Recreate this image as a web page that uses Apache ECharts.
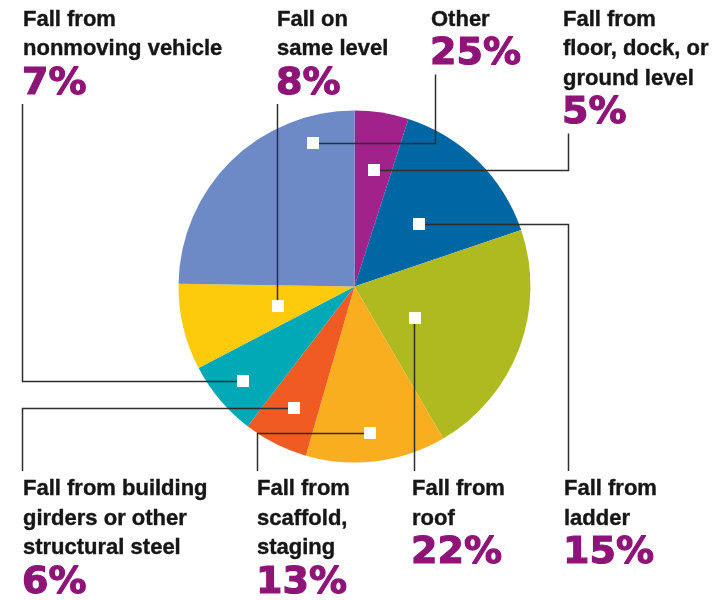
<!DOCTYPE html>
<html>
<head>
<meta charset="utf-8">
<script src="https://cdn.jsdelivr.net/npm/echarts@6/dist/echarts.min.js"></script>
<style>
  html, body { margin: 0; padding: 0; background: #fff; }
  #main { width: 724px; height: 600px; }
</style>
</head>
<body>
<div id="main"></div>
<script>
// 数据 (clockwise from 12 o'clock)
var categories = ['Fall from floor, dock, or ground level', 'Fall from ladder', 'Fall from roof',
    'Fall from scaffold, staging', 'Fall from building girders or other structural steel',
    'Fall from nonmoving vehicle', 'Fall on same level', 'Other'];
var values = [5, 15, 22, 13, 6, 7, 8, 25];
var labelLines = [
    ['Fall from', 'floor, dock, or', 'ground level'],
    ['Fall from', 'ladder'],
    ['Fall from', 'roof'],
    ['Fall from', 'scaffold,', 'staging'],
    ['Fall from building', 'girders or other', 'structural steel'],
    ['Fall from', 'nonmoving vehicle'],
    ['Fall on', 'same level'],
    ['Other']
];

var colors = ['#A0228A', '#0067A4', '#AFBA20', '#F8AE1F', '#F05A23', '#00A9B5', '#FECA0C', '#6D8AC6'];

// label placement: text x, top/bottom row, leader x; marker = fraction of slice angle, fraction of radius
var place = [
    {x: 563, top: true, lineX: 568.5, af: 0.53, rf: 0.67},
    {x: 564, top: false, lineX: 568.5, af: 0.53, rf: 0.51},
    {x: 412, top: false, lineX: 414.5, af: 0.59, rf: 0.39},
    {x: 257, top: false, lineX: 257.5, af: 0.52, rf: 0.84},
    {x: 23, top: false, lineX: 22.5, af: 0.48, rf: 0.77},
    {x: 23, top: true, lineX: 22.5, af: 0.50, rf: 0.83},
    {x: 277, top: true, lineX: 277.5, af: 0.48, rf: 0.45},
    {x: 431, top: true, lineX: 435.5, af: 0.82, rf: 0.85}
];

var textFont = 'bold 22px "Liberation Sans", Arial, sans-serif';
var pctFont = 'bold 38px "DejaVu Sans", sans-serif';
var lineGap = 29.5;

var myChart = echarts.init(document.getElementById('main'), null, {renderer: 'canvas'});

var pieData = categories.map(function (c, i) {
    return {name: c, value: values[i], itemStyle: {color: colors[i]}};
});

myChart.setOption({
    backgroundColor: '#fff',
    animation: false,
    series: [{
        type: 'pie',
        z: 1,
        center: [354.5, 286.5],
        radius: 176,
        startAngle: 90,
        clockwise: true,
        silent: true,
        label: {show: false},
        labelLine: {show: false},
        itemStyle: {borderWidth: 0},
        data: pieData
    }]
});

// 引线 + 方块 + 文字
var data = myChart.getModel().getSeriesByIndex(0).getData();
var graphics = [];
var squares = [];
var total = values.reduce(function (a, b) { return a + b; }, 0);
var acc = 0;

for (var i = 0; i < values.length; i++) {
    var lay = data.getItemLayout(i);
    var p = place[i];
    var sa, ea, cx, cy, r;
    if (lay && lay.startAngle != null) {
        sa = lay.startAngle; ea = lay.endAngle; cx = lay.cx; cy = lay.cy; r = lay.r;
    } else {
        sa = -Math.PI / 2 + acc / total * Math.PI * 2;
        ea = sa + values[i] / total * Math.PI * 2;
        cx = 354.5; cy = 286.5; r = 176;
    }
    acc += values[i];
    var a = sa + (ea - sa) * p.af;
    var mx = cx + r * p.rf * Math.cos(a);
    var my = cy + r * p.rf * Math.sin(a);

    var lines = labelLines[i];
    var base0 = p.top ? 27.5 : 497;
    var pctBase = base0 + lineGap * (lines.length - 1) + 40;
    var endY = p.top ? pctBase + 7 : base0 - 26;

    graphics.push({
        type: 'polyline',
        silent: true,
        z: 100,
        shape: {points: [[mx, Math.round(my) + 0.5], [p.lineX, Math.round(my) + 0.5], [p.lineX, endY]]},
        style: {stroke: '#2e2e2e', lineWidth: 1.5, fill: null}
    });
    squares.push({
        type: 'rect',
        silent: true,
        z: 110,
        shape: {x: Math.round(mx) - 6, y: Math.round(my) - 6, width: 12, height: 12},
        style: {fill: '#fff'}
    });

    for (var k = 0; k < lines.length; k++) {
        graphics.push({
            type: 'text',
            silent: true,
            z: 100,
            x: p.x,
            y: base0 + lineGap * k - 22 * 0.35,
            style: {text: lines[k], font: textFont, fill: '#161616', stroke: '#161616', lineWidth: 0.4,
                align: 'left', verticalAlign: 'middle'}
        });
    }
    graphics.push({
        type: 'text',
        silent: true,
        z: 100,
        x: p.x - 1,
        y: pctBase - 38 * 0.35,
        style: {text: values[i] + '%', font: pctFont, fill: '#8F1478', stroke: '#8F1478', lineWidth: 1.2,
            align: 'left', verticalAlign: 'middle'}
    });
}

myChart.setOption({graphic: graphics.concat(squares)});
</script>
</body>
</html>
